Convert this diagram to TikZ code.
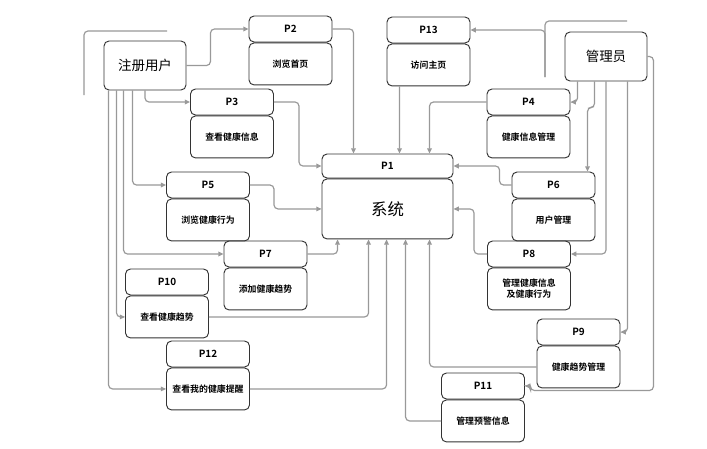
\documentclass[tikz,border=0pt]{standalone}
\usepackage{fontspec}
\setmainfont{Noto Sans CJK SC}[BoldFont={Noto Sans CJK SC Bold}]
\usetikzlibrary{positioning,calc,arrows.meta}

\begin{document}
\begin{tikzpicture}[
    x=0.03cm, y=-0.03cm,
    node distance = 0pt,
    hdr/.style={
        rectangle,
        rounded corners=0.15cm,
        draw=black!80,
        line width=0.8pt,
        inner sep=0pt,
        minimum width=2.49cm,
        minimum height=0.78cm,
        font=\fontsize{8.5}{10}\selectfont\bfseries
        },
    bdy/.style={
        hdr,
        minimum height=1.26cm,
        align=center,
        font=\fontsize{7.6}{9.5}\selectfont\bfseries
        },
    actor/.style={
        hdr,
        minimum width=2.46cm,
        minimum height=1.47cm,
        font=\fontsize{11.5}{13}\selectfont
        },
    conn/.style={
        draw=black!40,
        line width=1pt,
        rounded corners=0.12cm,
        -{Triangle[length=4.5pt,width=4pt]}
        },
    line/.style={
        draw=black!40,
        line width=1pt,
        rounded corners=0.12cm
        },
]

\useasboundingbox[fill=white] (0,0) rectangle (707,448);

% actors
\node[actor](user) at (145,65.5){注册用户};
\node[actor](admin) at (606,56.5){管理员};

% system
\node[hdr, minimum width=3.93cm, minimum height=0.72cm](p1h) at (387.5,166){P1};
\node[bdy, minimum width=3.93cm, minimum height=1.8cm, font=\fontsize{14}{16}\selectfont, below=of p1h](p1b){系统};

% processes
\node[hdr](p2h) at (290.5,29){P2};
\node[bdy, below=of p2h](p2b){浏览首页};
\node[hdr](p3h) at (232,102){P3};
\node[bdy, below=of p3h](p3b){查看健康信息};
\node[hdr](p13h) at (428.5,30){P13};
\node[bdy, below=of p13h](p13b){访问主页};
\node[hdr](p4h) at (528.5,102){P4};
\node[bdy, below=of p4h](p4b){健康信息管理};
\node[hdr](p5h) at (208,185){P5};
\node[bdy, below=of p5h](p5b){浏览健康行为};
\node[hdr](p6h) at (553.5,185){P6};
\node[bdy, below=of p6h](p6b){用户管理};
\node[hdr](p7h) at (265.5,254){P7};
\node[bdy, below=of p7h](p7b){添加健康趋势};
\node[hdr](p8h) at (529,254){P8};
\node[bdy, below=of p8h](p8b){管理健康信息\\及健康行为};
\node[hdr](p10h) at (167,282){P10};
\node[bdy, below=of p10h](p10b){查看健康趋势};
\node[hdr](p12h) at (208,354){P12};
\node[bdy, below=of p12h](p12b){查看我的健康提醒};
\node[hdr](p9h) at (578.5,332){P9};
\node[bdy, below=of p9h](p9b){健康趋势管理};
\node[hdr](p11h) at (483,386){P11};
\node[bdy, below=of p11h](p11b){管理预警信息};

% loose ends
\coordinate (tl) at (84,95);
\coordinate (tl2) at (167,31);
\coordinate (tr) at (545,77);
\coordinate (tr2) at (627,21);
\draw[line] (tl) |- (tl2);
\draw[line] (tr) |- (tr2);
\draw[conn] (tr) |- (p13h.east);

% from user
\draw[conn] (user.east) -- ++(24,0) |- (p2h.west);
\draw[conn] (user.south) |- (p3h.west);
\draw[conn] ($(user.south west)+(29,0)$) |- (p5h.west);
\draw[conn] ($(user.south west)+(20,0)$) |- (p7h.west);
\draw[conn] ($(user.south west)+(13,0)$) |- (p10b.west);
\draw[conn] ($(user.south west)+(5,0)$) |- (p12b.west);

% from admin
\draw[conn] ($(admin.south west)+(13,0)$) |- (p4h.east);
\draw[conn] ($(admin.south west)+(30,0)$) -- ++(0,26) -| ($(p6h.north west)+(76,0)$);
\draw[conn] (admin.south) |- (p8h.east);
\draw[conn] ($(admin.south west)+(63,0)$) |- (p9h.east);
\draw[conn] (admin.east) -| ++(6,334) -- ++(-123,0) |- (p11h.east);

% into system
\draw[conn] (p2h.east) -| ($(p1h.north west)+(32,0)$);
\draw[conn] ($(p13b.south west)+(13,0)$) -- ($(p1h.north west)+(78,0)$);
\draw[conn] (p4h.west) -| ($(p1h.north west)+(108,0)$);
\draw[conn] (p3h.east) -- ++(25,0) |- (p1h.west);
\draw[conn] (p5h.east) -- ++(24,0) |- (p1b.west);
\draw[conn] (p6h.west) -- ++(-12,0) |- (p1h.east);
\draw[conn] (p8h.west) -- ++(-13,0) |- (p1b.east);
\draw[conn] (p7h.east) -| ($(p1b.south west)+(16,0)$);
\draw[conn] (p10b.east) -| ($(p1b.south west)+(47,0)$);
\draw[conn] (p12b.east) -| ($(p1b.south west)+(65,0)$);
\draw[conn] (p11b.west) -| ($(p1b.south west)+(84,0)$);
\draw[conn] (p9b.west) -| ($(p1b.south west)+(108,0)$);

\end{tikzpicture}
\end{document}
